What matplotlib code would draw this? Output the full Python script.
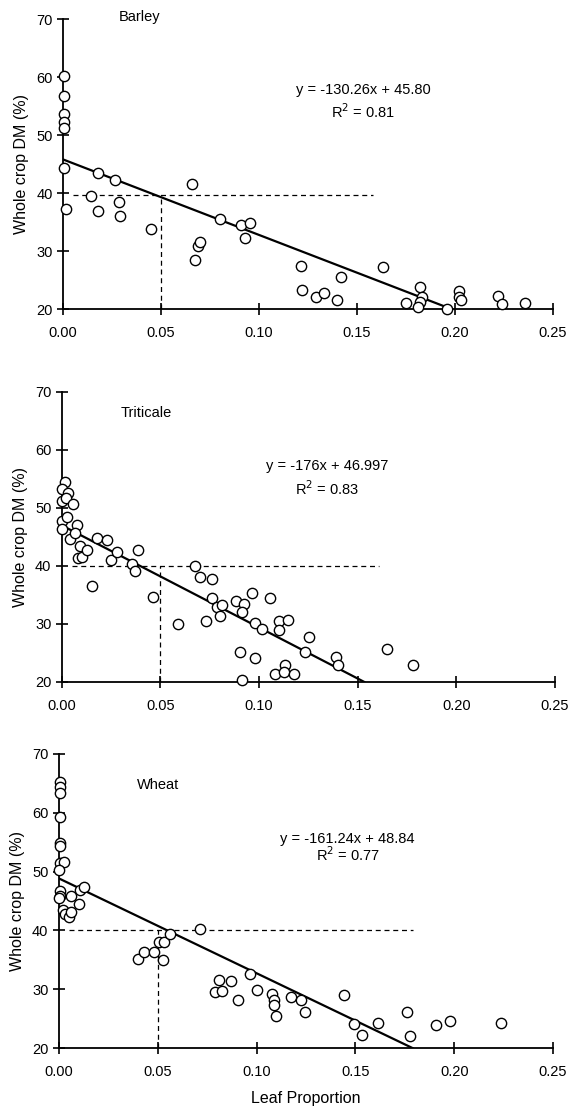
import matplotlib.pyplot as plt

plt.rcParams['font.family'] = ['Liberation Sans', 'DejaVu Sans']

# leaf proportion vs whole crop dry matter, one set per crop
barley_x = [0.0005, 0.0005, 0.0005, 0.0005, 0.0005, 0.0005, 0.0017, 0.0144, 0.018, 0.018,
            0.0268, 0.0288, 0.0293, 0.0447, 0.0656, 0.0675, 0.069, 0.070, 0.080, 0.091,
            0.0953, 0.093, 0.1212, 0.122, 0.1293, 0.133, 0.140, 0.142, 0.163, 0.175,
            0.182, 0.183, 0.182, 0.181, 0.196, 0.202, 0.202, 0.203, 0.222, 0.224, 0.2356]
barley_y = [60.1, 56.7, 53.6, 52.3, 51.2, 44.3, 37.3, 39.4, 43.4, 36.9,
            42.2, 38.5, 36.0, 33.8, 41.6, 28.4, 30.8, 31.5, 35.6, 34.4,
            34.9, 32.3, 27.5, 23.2, 22.1, 22.8, 21.6, 25.5, 27.3, 21.0,
            23.8, 22.1, 21.2, 20.3, 20.0, 23.1, 22.1, 21.6, 22.3, 20.9, 21.1]

triticale_x = [0.0014, 0.0, 0.0034, 0.0, 0.0022, 0.0058, 0.0, 0.0, 0.0027, 0.0042,
               0.0078, 0.0069, 0.0091, 0.0083, 0.0103, 0.0129, 0.0152, 0.0178, 0.023, 0.0249,
               0.0279, 0.0357, 0.0369, 0.0386, 0.0462, 0.0589, 0.0673, 0.070, 0.0733, 0.076,
               0.076, 0.0787, 0.080, 0.081, 0.0882, 0.0922, 0.0914, 0.0966, 0.098, 0.1013,
               0.0902, 0.098, 0.0914, 0.1054, 0.110, 0.110, 0.108, 0.113, 0.1125, 0.1147,
               0.1176, 0.1254, 0.1232, 0.139, 0.140, 0.165, 0.178]
triticale_y = [54.5, 53.2, 52.6, 51.2, 51.7, 50.7, 47.8, 46.3, 48.4, 44.7,
               47.0, 45.6, 43.4, 41.3, 41.6, 42.8, 36.6, 44.8, 44.5, 41.0,
               42.4, 40.4, 39.1, 42.8, 34.7, 30.0, 40.0, 38.1, 30.5, 37.7,
               34.4, 32.9, 31.4, 33.3, 34.0, 33.4, 32.0, 35.4, 30.1, 29.1,
               25.1, 24.2, 20.3, 34.4, 30.5, 28.9, 21.3, 23.0, 21.7, 30.6,
               21.3, 27.8, 25.2, 24.3, 23.0, 25.7, 22.9]

wheat_x = [0.0003, 0.0003, 0.0003, 0.0003, 0.0003, 0.0003, 0.0003, 0.0024, 0.0, 0.0003,
           0.0003, 0.0, 0.002, 0.0029, 0.0049, 0.0059, 0.0063, 0.010, 0.0105, 0.0125,
           0.0398, 0.0432, 0.0483, 0.0505, 0.0524, 0.0534, 0.056, 0.0715, 0.0792, 0.0808,
           0.0825, 0.0868, 0.0907, 0.0966, 0.100, 0.1076, 0.109, 0.109, 0.110, 0.1176,
           0.1227, 0.1244, 0.1444, 0.1492, 0.1532, 0.1614, 0.1761, 0.1775, 0.1905, 0.1978,
           0.2237]
wheat_y = [65.3, 64.3, 63.3, 59.2, 54.8, 54.3, 51.4, 51.7, 50.2, 46.7,
           45.9, 45.5, 43.5, 42.8, 42.3, 43.2, 45.9, 44.5, 46.8, 47.4,
           35.1, 36.3, 36.4, 38.1, 34.9, 38.1, 39.4, 40.3, 29.5, 31.5,
           29.7, 31.4, 28.1, 32.6, 29.9, 29.2, 28.2, 27.4, 25.5, 28.7,
           28.1, 26.1, 29.1, 24.1, 22.3, 24.2, 26.1, 22.0, 23.9, 24.6,
           24.2]

crops = ['Barley', 'Triticale', 'Wheat']
slopes = [-130.26, -176.0, -161.24]
intercepts = [45.80, 46.997, 48.84]
equations = ['y = -130.26x + 45.80', 'y = -176x + 46.997', 'y = -161.24x + 48.84']
r2_labels = ['R$^2$ = 0.81', 'R$^2$ = 0.83', 'R$^2$ = 0.77']
ref_dm = [39.7, 40.0, 40.0]
ref_end = [0.158, 0.161, 0.179]

fig = plt.figure(figsize=(5.72, 11.06), dpi=100)
boxes = [[0.110, 0.7206, 0.857, 0.2622],
         [0.108, 0.3834, 0.862, 0.2622],
         [0.103, 0.0524, 0.864, 0.2659]]
title_pos = [(0.039, 70.3), (0.043, 66.4), (0.050, 64.7)]
eq_pos = [(0.153, 57.8, 54.0), (0.1345, 57.2, 53.4), (0.146, 55.5, 52.8)]
data = [(barley_x, barley_y), (triticale_x, triticale_y), (wheat_x, wheat_y)]

for i, crop in enumerate(crops):
    ax = fig.add_axes(boxes[i])
    xs, ys = data[i]
    m, b = slopes[i], intercepts[i]
    x_end = (20 - b) / m
    ax.plot([0, x_end], [b, 20], color='black', lw=1.6, zorder=2)
    ax.plot([0.005, ref_end[i]], [ref_dm[i], ref_dm[i]],
            color='black', lw=0.9, ls=(0, (4, 3)), zorder=1)
    ax.plot([0.05, 0.05], [20, ref_dm[i]], color='black', lw=0.9, ls=(0, (4, 3)), zorder=1)
    ax.scatter(xs, ys, s=55, facecolor='white', edgecolor='black', linewidth=1.0,
               zorder=3, clip_on=False)

    ax.set_xlim(0, 0.25)
    ax.set_ylim(20, 70)
    ax.set_xticks([0.0, 0.05, 0.10, 0.15, 0.20, 0.25])
    ax.set_xticklabels(['0.00', '0.05', '0.10', '0.15', '0.20', '0.25'])
    ax.set_yticks([20, 30, 40, 50, 60, 70])
    ax.spines['top'].set_visible(False)
    ax.spines['right'].set_visible(False)
    ax.spines['left'].set_linewidth(1.3)
    ax.spines['bottom'].set_linewidth(1.3)
    ax.tick_params(direction='inout', length=9, width=1.2, labelsize=10.5)
    ax.tick_params(axis='x', pad=8)
    ax.tick_params(axis='y', pad=3)
    ax.set_ylabel('Whole crop DM (%)', fontsize=11.5, labelpad=5)

    ax.text(title_pos[i][0], title_pos[i][1], crop, fontsize=10.5, ha='center', va='center')
    ex, ey, ry = eq_pos[i]
    ax.text(ex, ey, equations[i], fontsize=10.5, ha='center', va='center')
    ax.text(ex, ry, r2_labels[i], fontsize=10.5, ha='center', va='center')

    if i == 2:
        ax.set_xlabel('Leaf Proportion', fontsize=11.5, labelpad=8)

fig.savefig('out.png', dpi=100)
